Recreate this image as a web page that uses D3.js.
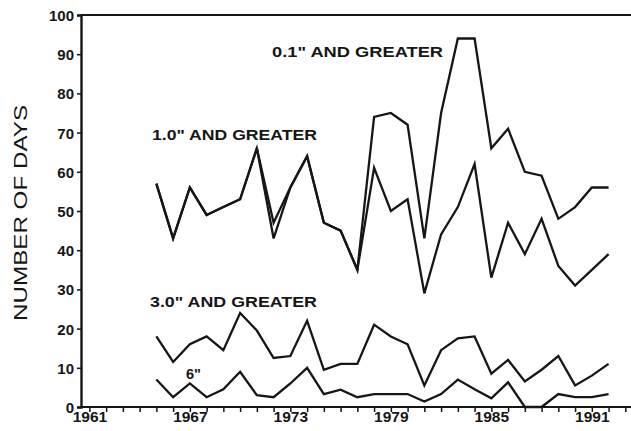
<!DOCTYPE html>
<html><head><meta charset="utf-8">
<script src="https://cdn.jsdelivr.net/npm/d3@7/dist/d3.min.js"></script>
<style>body{margin:0;background:#fff}svg{display:block}</style>
</head><body>
<svg id="c" width="631" height="431"></svg>
<script>
const years = d3.range(1965, 1993);
const gt01 = [57,43,56,49,51,53,66,47,56,64,47,45,35,74,75,72,43,75,94,94,66,71,60,59,48,51,56,56];
const gt10 = [57,43,56,49,51,53,66,43,56,64,47,45,35,61,50,53,29,44,51,62,33,47,39,48,36,31,35,39];
const gt30 = [18,11.5,16,18,14.5,24,19.5,12.5,13,22,9.5,11,11,21,18,16,5.5,14.5,17.5,18,8.5,12,6.5,9.5,13,5.5,8,11];
const gt6 = [7,2.5,6,2.5,4.5,9,3,2.5,6,10,3.3,4.4,2.5,3.3,3.3,3.3,1.4,3.3,7,4.5,2.2,6.3,0,0,3.3,2.5,2.5,3.3];
const yTicks = [0,10,20,30,40,50,60,70,80,90,100];
const xTickLabels = [1961,1967,1973,1979,1985,1991];
const seriesLabels = ['0.1" AND GREATER','1.0" AND GREATER','3.0" AND GREATER','6"'];

const svg = d3.select('#c');
const x = d3.scaleLinear().domain([1960.5, 1993.5]).range([81, 633.7]);
const y = d3.scaleLinear().domain([0, 100]).range([407, 15]);
const ink = '#161616';
const font = '"Liberation Sans", Arial, Helvetica, sans-serif';

const line = d3.line().x((d,i)=>x(years[i])).y(d=>y(d));
[gt01, gt10, gt30, gt6].forEach(s=>{
  svg.append('path').attr('d', line(s)).attr('fill','none')
    .attr('stroke', ink).attr('stroke-width', 2.3).attr('stroke-linejoin','miter');
});

svg.append('line').attr('x1', x(1960.5)).attr('x2', 631).attr('y1', y(100)).attr('y2', y(100))
  .attr('stroke', ink).attr('stroke-width', 2.2);

const ya = svg.append('g').attr('transform', `translate(${x(1960.5)},0)`)
  .call(d3.axisLeft(y).tickValues(yTicks).tickSize(4).tickPadding(3).tickFormat(d3.format('d')));
ya.select('.domain').attr('stroke', ink).attr('stroke-width', 2.4);
ya.selectAll('.tick line').attr('stroke', ink).attr('stroke-width', 1.5);
ya.selectAll('.tick text').attr('font-family', font).attr('font-weight','bold')
  .attr('font-size', 15).attr('fill', ink).attr('dy','0.36em');

const xa = svg.append('g').attr('transform', `translate(0,${y(0)})`)
  .call(d3.axisBottom(x).tickValues(d3.range(1961, 1994)).tickSize(5).tickSizeOuter(0)
    .tickFormat(d => xTickLabels.includes(d) ? String(d) : ''));
xa.select('.domain').attr('stroke', ink).attr('stroke-width', 2.2)
  .attr('d', `M${x(1960.5)},0H631`);
xa.selectAll('.tick line').attr('stroke', ink).attr('stroke-width', 1.5);
xa.selectAll('.tick text').attr('font-family', font).attr('font-weight','bold')
  .attr('font-size', 15.5).attr('fill', ink).attr('dy', '0.45em');

svg.append('text').attr('transform','translate(27,213) rotate(-90)')
  .attr('text-anchor','middle').attr('font-family', font).attr('font-size', 17.5)
  .attr('fill', ink).attr('textLength', 216).attr('lengthAdjust','spacingAndGlyphs')
  .text('NUMBER OF DAYS');

const lab = [
  {t: seriesLabels[0], x: 272, y: 56.5, w: 171},
  {t: seriesLabels[1], x: 152, y: 139.5, w: 165},
  {t: seriesLabels[2], x: 150, y: 306.5, w: 167},
  {t: seriesLabels[3], x: 186, y: 379, w: 15}
];
lab.forEach(l=>{
  svg.append('text').attr('x', l.x).attr('y', l.y).attr('font-family', font)
    .attr('font-weight','bold').attr('font-size', 15).attr('fill', ink)
    .attr('textLength', l.w).attr('lengthAdjust','spacingAndGlyphs').text(l.t);
});
</script>
</body></html>
